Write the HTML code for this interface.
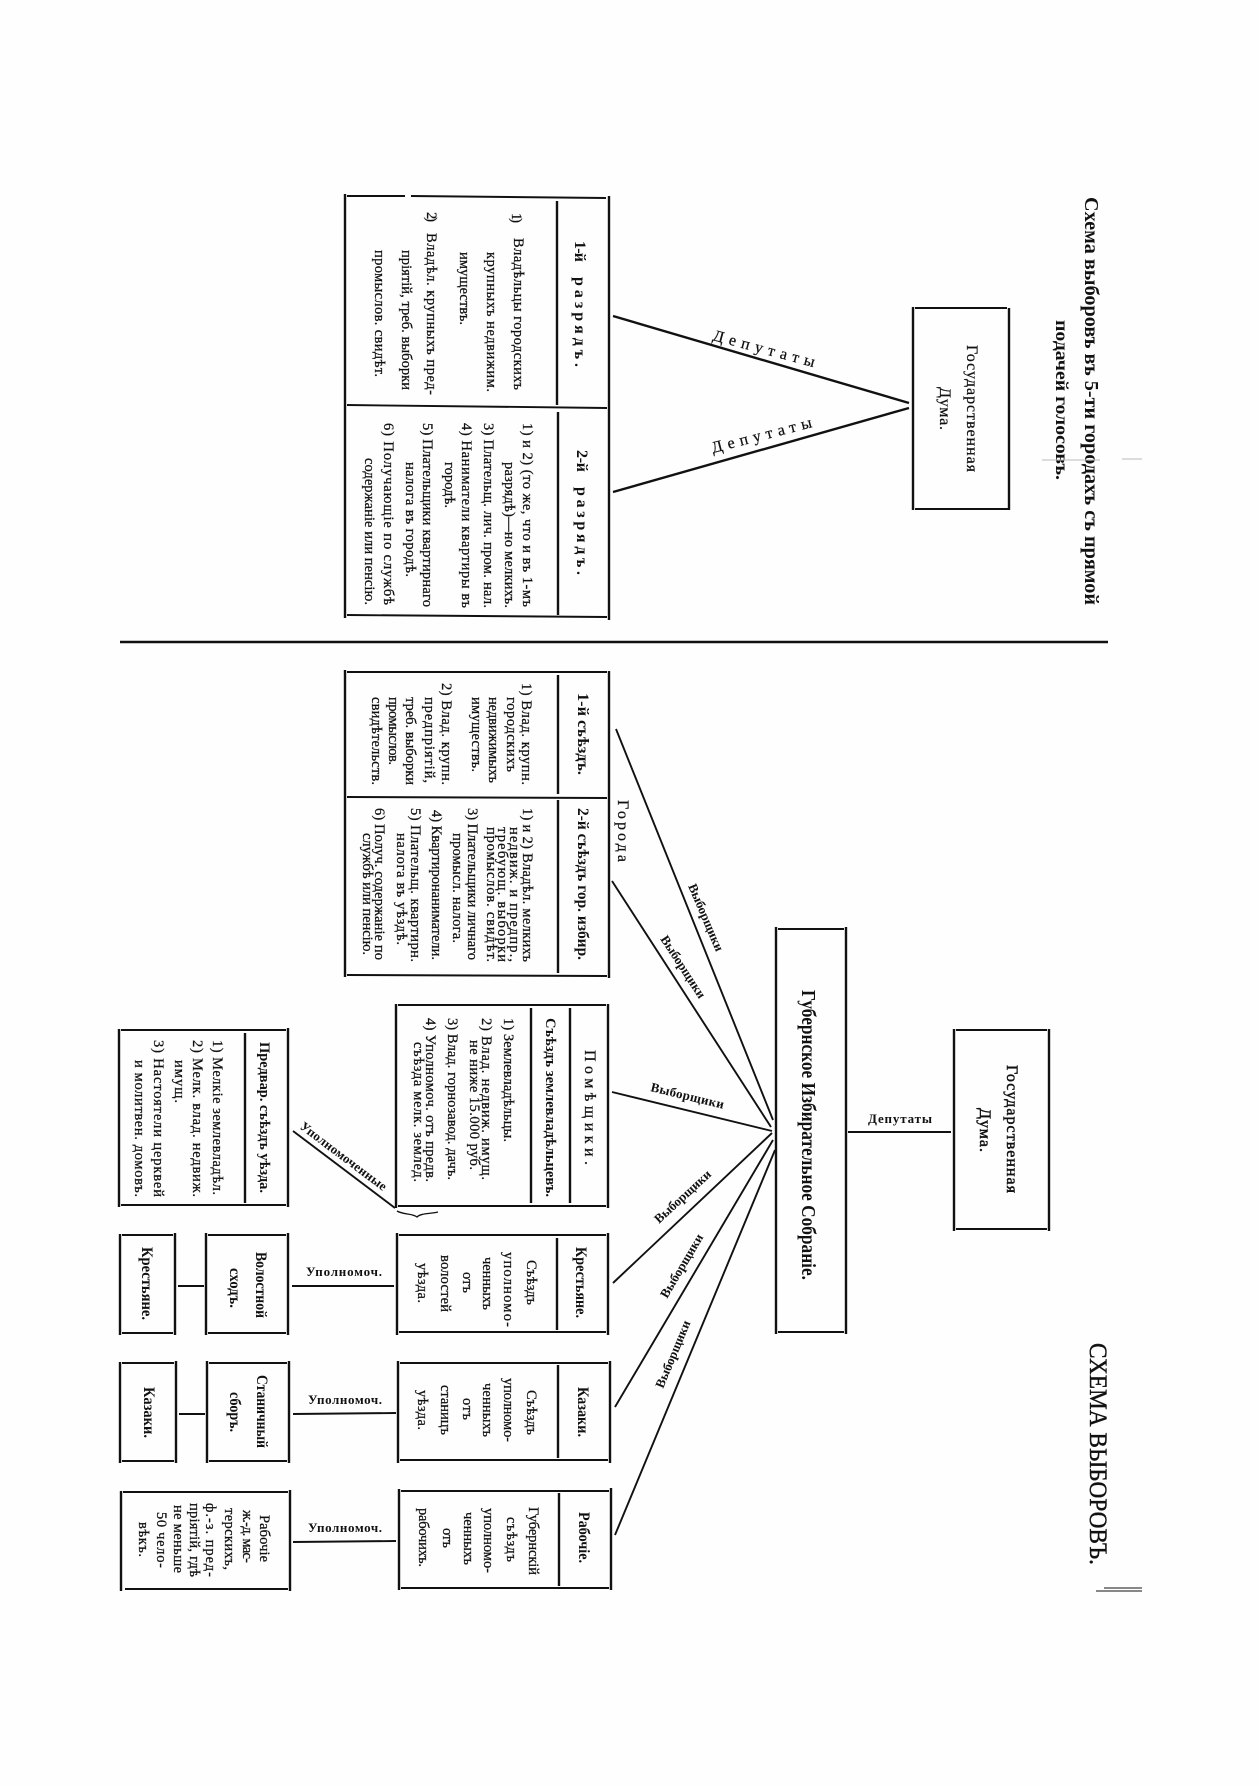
<!DOCTYPE html>
<html lang="ru"><head><meta charset="utf-8"><title>Схема выборовъ</title>
<style>
html,body{margin:0;padding:0;background:#fefefe;width:1259px;height:1786px;overflow:hidden}
svg{display:block}
text{font-family:"Liberation Serif","DejaVu Serif",serif;font-size:14.5px;fill:#111;stroke:#111;stroke-width:.25}
.b{font-weight:bold;stroke-width:0}
.h{font-weight:bold;font-size:16px;stroke-width:0}
.m{font-size:16px}
.lb{font-weight:bold;font-size:13px;stroke-width:0}
.ti{font-weight:bold;font-size:20px;stroke-width:0}
.big{font-size:25px;stroke-width:.4}
.cn{font-weight:bold;font-size:20px;stroke-width:0}
path{fill:none;stroke:#111;stroke-width:2.4}
.th{stroke-width:1.9}
.f{stroke:#bbb;stroke-width:1}
</style></head><body>
<svg width="1259" height="1786" viewBox="0 0 1259 1786" xmlns="http://www.w3.org/2000/svg">
<!-- titles -->
<text class="ti" lengthAdjust="spacingAndGlyphs" transform="translate(1085 197) rotate(90)" textLength="408">Схема выборовъ въ 5-ти городахъ съ прямой</text>
<text class="ti" lengthAdjust="spacingAndGlyphs" transform="translate(1056 320) rotate(90)" textLength="160" style="font-size:18px">подачей голосовъ.</text>
<text class="big" lengthAdjust="spacingAndGlyphs" transform="translate(1090 1343) rotate(90)" textLength="222">СХЕМА ВЫБОРОВЪ.</text>
<path class="f" d="M1042 460H1100M1122 459H1142"/>
<path class="th" d="M1096 1591H1142M1104 1588H1142" style="stroke-width:1"/>
<path d="M120 642H1108"/>

<!-- top table -->
<path d="M345 194V618M609 196V620M557 201V405M558 412V615"/>
<path class="th" d="M347 196H405M411 196L606 198M347 405L607 408M347 615L607 617"/>
<text class="h" transform="translate(575 241) rotate(90)" textLength="21">1-й</text>
<text class="h" transform="translate(575 277) rotate(90)" textLength="90">разрядъ.</text>
<text transform="translate(512 213) rotate(90)" textLength="10">1)</text>
<text transform="translate(514 238) rotate(90)" textLength="152">Владѣльцы городскихъ</text>
<text transform="translate(487 252) rotate(90)" textLength="140">крупныхъ недвижим.</text>
<text transform="translate(460 252) rotate(90)" textLength="73">имуществъ.</text>
<text transform="translate(427 212) rotate(90)" textLength="10">2)</text>
<text transform="translate(427 233) rotate(90)" textLength="162">Владѣл. крупныхъ пред-</text>
<text transform="translate(402 250) rotate(90)" textLength="140">пріятій, треб. выборки</text>
<text transform="translate(375 250) rotate(90)" textLength="127">промыслов. свидѣт.</text>

<text class="h" transform="translate(577 450) rotate(90)" textLength="22">2-й</text>
<text class="h" transform="translate(577 487) rotate(90)" textLength="88">разрядъ.</text>
<text transform="translate(523 423) rotate(90)" textLength="184">1) и 2) (то же, что и въ 1-мъ</text>
<text transform="translate(505 462) rotate(90)" textLength="146">разрядѣ)—но мелкихъ.</text>
<text transform="translate(484 423) rotate(90)" textLength="185">3) Плательщ. лич. пром. нал.</text>
<text transform="translate(462 423) rotate(90)" textLength="185">4) Наниматели квартиры въ</text>
<text transform="translate(445 462) rotate(90)" textLength="46">городѣ.</text>
<text transform="translate(423 423) rotate(90)" textLength="184">5) Плательщики квартирнаго</text>
<text transform="translate(406 462) rotate(90)" textLength="115">налога въ городѣ.</text>
<text transform="translate(384 423) rotate(90)" textLength="182">6) Получающіе по службѣ</text>
<text transform="translate(365 458) rotate(90)" textLength="147">содержаніе или пенсію.</text>

<!-- top links -->
<path d="M613 316L909 403M613 492L909 408"/>
<text class="m" transform="translate(712 340) rotate(15)" textLength="105">Депутаты</text>
<text class="m" transform="translate(713 453) rotate(-14.6)" textLength="103">Депутаты</text>

<!-- top duma -->
<path d="M913 307V510M1009 308V510"/>
<path class="th" d="M915 308H1007M915 509H1008"/>
<text class="m" transform="translate(967 345) rotate(90)" textLength="127">Государственная</text>
<text class="m" transform="translate(940 387) rotate(90)" textLength="43">Дума.</text>

<!-- cities table -->
<path d="M345 670V977M609 671V978M558 675V794M558 800V973"/>
<path class="th" d="M347 672H607M347 797L607 798M347 975L607 976"/>
<text class="h" lengthAdjust="spacingAndGlyphs" transform="translate(578 693) rotate(90)" textLength="82">1-й съѣздъ.</text>
<text class="h" lengthAdjust="spacingAndGlyphs" transform="translate(578 808) rotate(90)" textLength="152">2-й съѣздъ гор. избир.</text>
<text transform="translate(522 683) rotate(90)" textLength="102">1) Влад. крупн.</text>
<text transform="translate(507 697) rotate(90)" textLength="75">городскихъ</text>
<text transform="translate(489 697) rotate(90)" textLength="86">недвижимыхъ</text>
<text transform="translate(472 697) rotate(90)" textLength="75">имуществъ.</text>
<text transform="translate(442 683) rotate(90)" textLength="102">2) Влад. крупн.</text>
<text transform="translate(425 697) rotate(90)" textLength="86">предпріятій,</text>
<text transform="translate(406 697) rotate(90)" textLength="88">треб. выборки</text>
<text transform="translate(389 697) rotate(90)" textLength="68">промыслов.</text>
<text transform="translate(372 697) rotate(90)" textLength="88">свидѣтельств.</text>
<text transform="translate(523 808) rotate(90)" textLength="154">1) и 2) Владѣл. мелкихъ</text>
<text transform="translate(510 827) rotate(90)" textLength="135">недвиж. и предпр.,</text>
<text transform="translate(498 827) rotate(90)" textLength="135">требующ. выборки</text>
<text transform="translate(487 827) rotate(90)" textLength="135">промыслов. свидѣт.</text>
<text transform="translate(468 808) rotate(90)" textLength="152">3) Плательщики личнаго</text>
<text transform="translate(453 833) rotate(90)" textLength="110">промысл. налога.</text>
<text transform="translate(432 810) rotate(90)" textLength="150">4) Квартиронаниматели.</text>
<text transform="translate(411 808) rotate(90)" textLength="154">5) Плательщ. квартирн.</text>
<text transform="translate(397 833) rotate(90)" textLength="112">налога въ уѣздѣ.</text>
<text transform="translate(375 808) rotate(90)" textLength="152">6) Получ. содержаніе по</text>
<text transform="translate(363 833) rotate(90)" textLength="122">службѣ или пенсію.</text>

<text class="m" transform="translate(618 800) rotate(90)" textLength="62">Города</text>

<!-- fan -->
<path class="th" d="M616 729L773 1120M612 881L771 1127M612 1092L772 1131M613 1283L772 1133M615 1407L773 1140M615 1535L775 1150"/>
<text class="lb" transform="translate(688 886) rotate(67)" textLength="72">Выборщики</text>
<text class="lb" transform="translate(660 939) rotate(57)" textLength="72">Выборщики</text>
<text class="lb" transform="translate(650 1091) rotate(13.7)" textLength="75">Выборщики</text>
<text class="lb" transform="translate(659 1224) rotate(-42.6)" textLength="72">Выборщики</text>
<text class="lb" transform="translate(667 1299) rotate(-59.4)" textLength="72">Выборщики</text>
<text class="lb" transform="translate(663 1389) rotate(-67.4)" textLength="72">Выборщики</text>

<!-- central -->
<path d="M776 927V1334M846 927V1334"/>
<path class="th" d="M778 929H844M778 1332H844"/>
<text class="cn" lengthAdjust="spacingAndGlyphs" transform="translate(802 990) rotate(90)" textLength="290">Губернское Избирательное Собраніе.</text>

<!-- duma -->
<path d="M954 1029V1231M1049 1029V1231"/>
<path class="th" d="M956 1030H1047M956 1229H1047"/>
<text class="m" transform="translate(1007 1065) rotate(90)" textLength="128" style="stroke-width:.5">Государственная</text>
<text class="m" transform="translate(980 1108) rotate(90)" textLength="44" style="stroke-width:.5">Дума.</text>
<path class="th" d="M848 1132H951"/>
<text class="lb" x="868" y="1123" textLength="64">Депутаты</text>

<!-- pomeshchiki -->
<path d="M396 1004V1208M608 1004V1208M570 1008V1203M531 1008V1203"/>
<path class="th" d="M398 1005H606M398 1206H606"/>
<text class="m" transform="translate(585 1050) rotate(90)" textLength="115">Помѣщики.</text>
<text class="b" lengthAdjust="spacingAndGlyphs" transform="translate(546 1018) rotate(90)" textLength="179">Съѣздъ землевладѣльцевъ.</text>
<text transform="translate(504 1018) rotate(90)" textLength="124">1) Землевладѣльцы.</text>
<text transform="translate(482 1018) rotate(90)" textLength="162">2) Влад. недвиж. имущ.</text>
<text transform="translate(470 1040) rotate(90)" textLength="130">не ниже 15.000 руб.</text>
<text transform="translate(448 1018) rotate(90)" textLength="162">3) Влад. горнозавод. дачъ.</text>
<text transform="translate(426 1018) rotate(90)" textLength="164">4) Уполномоч. отъ предв.</text>
<text transform="translate(414 1042) rotate(90)" textLength="140">съѣзда мелк. землед.</text>

<!-- predvar -->
<path d="M119 1029V1207M288 1028V1207M245 1033V1203"/>
<path class="th" d="M121 1030H286M121 1205H286"/>
<text class="b" lengthAdjust="spacingAndGlyphs" transform="translate(260 1042) rotate(90)" textLength="151">Предвар. съѣздъ уѣзда.</text>
<text transform="translate(213 1040) rotate(90)" textLength="155">1) Мелкіе землевладѣл.</text>
<text transform="translate(193 1040) rotate(90)" textLength="157">2) Мелк. влад. недвиж.</text>
<text transform="translate(175 1060) rotate(90)" textLength="43">имущ.</text>
<text transform="translate(154 1040) rotate(90)" textLength="157">3) Настоятели церквей</text>
<text transform="translate(135 1060) rotate(90)" textLength="137">и молитвен. домовъ.</text>

<path class="th" d="M293 1131L395 1208"/>
<text class="lb" transform="translate(299 1128) rotate(37)" textLength="105">Уполномоченные</text>
<path class="th" d="M397 1211C404 1215 412 1213 417 1217C421 1213 430 1214 438 1212" style="stroke-width:1.3"/>

<!-- krestyane row -->
<path d="M397 1233V1335M608 1233V1335M557 1238V1330M206 1233V1335M288 1233V1335M120 1234V1335M175 1233V1335"/>
<path class="th" d="M399 1235H606M399 1332H606M208 1235H286M208 1333H286M122 1235H173M122 1333H173"/>
<text class="h" lengthAdjust="spacingAndGlyphs" transform="translate(576 1247) rotate(90)" textLength="71">Крестьяне.</text>
<text transform="translate(527 1260) rotate(90)" textLength="45">Съѣздъ</text>
<text transform="translate(504 1252) rotate(90)" textLength="75">уполномо-</text>
<text transform="translate(483 1257) rotate(90)" textLength="53">ченныхъ</text>
<text transform="translate(463 1272) rotate(90)" textLength="21">отъ</text>
<text transform="translate(441 1255) rotate(90)" textLength="57">волостей</text>
<text transform="translate(418 1263) rotate(90)" textLength="40">уѣзда.</text>
<text class="h" lengthAdjust="spacingAndGlyphs" transform="translate(256 1252) rotate(90)" textLength="66">Волостной</text>
<text class="h" lengthAdjust="spacingAndGlyphs" transform="translate(230 1268) rotate(90)" textLength="40">сходъ.</text>
<text class="h" lengthAdjust="spacingAndGlyphs" transform="translate(142 1247) rotate(90)" textLength="73">Крестьяне.</text>
<path class="th" d="M178 1286H204M292 1286H394"/>
<text class="lb" x="306" y="1276" textLength="76">Уполномоч.</text>

<!-- kazaki row -->
<path d="M398 1361V1463M610 1361V1463M558 1365V1458M207 1361V1463M289 1361V1463M120 1362V1463M176 1361V1463"/>
<path class="th" d="M400 1363H608M400 1460H608M209 1363H287M209 1461H287M122 1363H174M122 1461H174"/>
<text class="h" lengthAdjust="spacingAndGlyphs" transform="translate(578 1387) rotate(90)" textLength="50">Казаки.</text>
<text transform="translate(527 1390) rotate(90)" textLength="45">Съѣздъ</text>
<text transform="translate(504 1378) rotate(90)" textLength="64">уполномо-</text>
<text transform="translate(483 1383) rotate(90)" textLength="54">ченныхъ</text>
<text transform="translate(463 1398) rotate(90)" textLength="22">отъ</text>
<text transform="translate(441 1385) rotate(90)" textLength="50">станицъ</text>
<text transform="translate(418 1390) rotate(90)" textLength="40">уѣзда.</text>
<text class="h" lengthAdjust="spacingAndGlyphs" transform="translate(257 1375) rotate(90)" textLength="73">Станичный</text>
<text class="h" lengthAdjust="spacingAndGlyphs" transform="translate(230 1392) rotate(90)" textLength="40">сборъ.</text>
<text class="h" lengthAdjust="spacingAndGlyphs" transform="translate(144 1387) rotate(90)" textLength="51">Казаки.</text>
<path class="th" d="M179 1414H205M293 1414L396 1413"/>
<text class="lb" x="308" y="1404" textLength="74">Уполномоч.</text>

<!-- rabochie row -->
<path d="M399 1489V1590M611 1488V1590M559 1493V1586M121 1491V1591M290 1490V1591"/>
<path class="th" d="M401 1491H609M401 1588H609M123 1492H288M125 1589H288"/>
<text class="h" lengthAdjust="spacingAndGlyphs" transform="translate(579 1512) rotate(90)" textLength="51">Рабочіе.</text>
<text transform="translate(529 1507) rotate(90)" textLength="68">Губернскій</text>
<text transform="translate(507 1517) rotate(90)" textLength="45">съѣздъ</text>
<text transform="translate(484 1508) rotate(90)" textLength="65">уполномо-</text>
<text transform="translate(464 1512) rotate(90)" textLength="53">ченныхъ</text>
<text transform="translate(443 1528) rotate(90)" textLength="20">отъ</text>
<text transform="translate(419 1508) rotate(90)" textLength="59">рабочихъ.</text>
<text transform="translate(260 1515) rotate(90)" textLength="47">Рабочіе</text>
<text transform="translate(243 1510) rotate(90)" textLength="53">ж.-д. мас-</text>
<text transform="translate(225 1508) rotate(90)" textLength="62">терскихъ,</text>
<text transform="translate(206 1503) rotate(90)" textLength="74">ф.-з. пред-</text>
<text transform="translate(190 1503) rotate(90)" textLength="74">пріятій, гдѣ</text>
<text transform="translate(174 1505) rotate(90)" textLength="68">не меньше</text>
<text transform="translate(157 1512) rotate(90)" textLength="56">50 чело-</text>
<text transform="translate(139 1522) rotate(90)" textLength="35">вѣкъ.</text>
<path class="th" d="M293 1542L396 1541"/>
<text class="lb" x="308" y="1532" textLength="74">Уполномоч.</text>
</svg>
</body></html>
